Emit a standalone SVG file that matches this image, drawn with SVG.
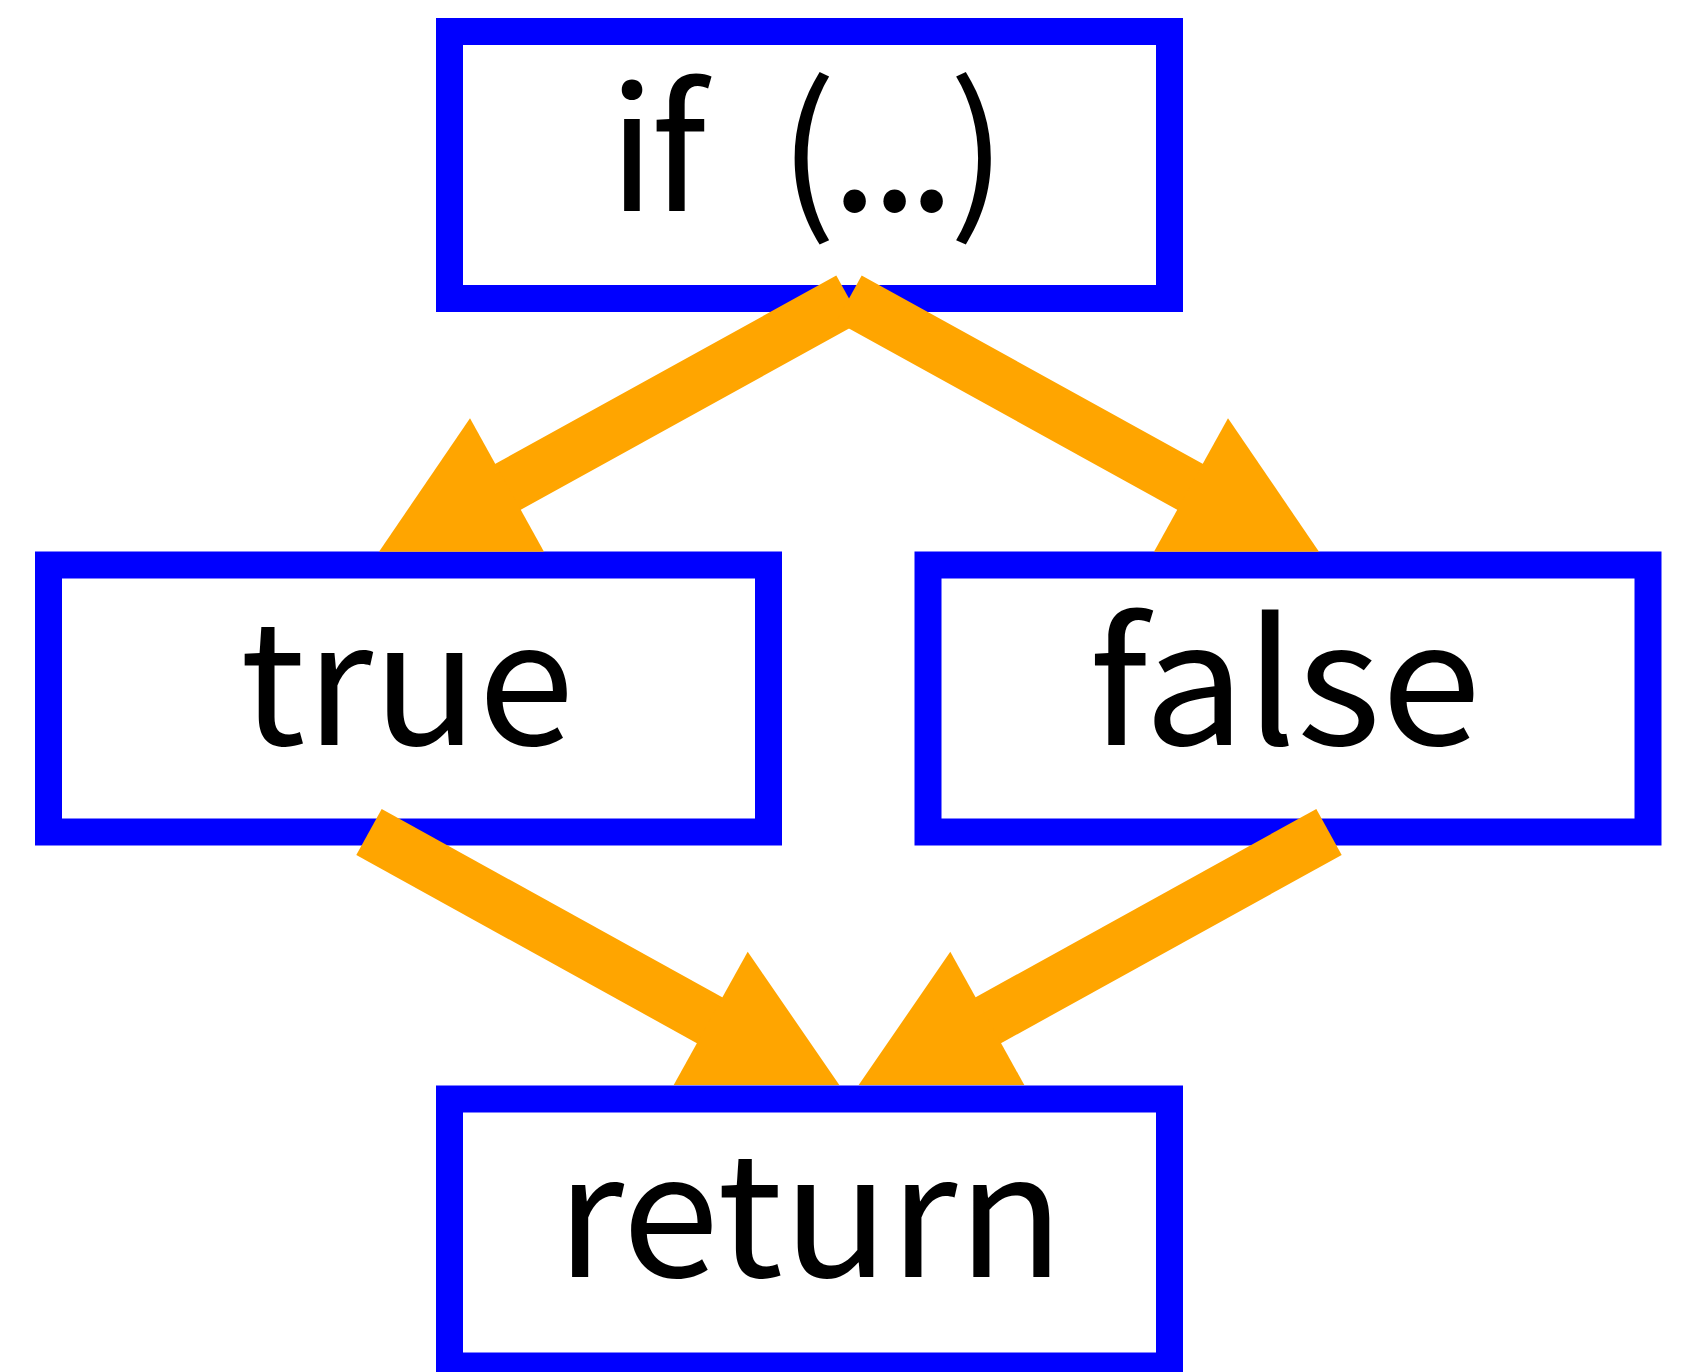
<svg xmlns="http://www.w3.org/2000/svg" width="1685" height="1372" viewBox="0 0 1685 1372">
<style>
.box{fill:#ffffff;stroke:#0000ff;stroke-width:27}
.lbl{font-family:"Noto Sans CJK JP","Noto Sans",sans-serif;font-size:170px;fill:#000000;text-anchor:middle}
.lbs{font-family:"Noto Sans CJK JP","Noto Sans",sans-serif;font-size:170px;fill:#000000}
.edge{stroke:#ffa500;stroke-width:52.5;stroke-linecap:butt;fill:none}
.head{fill:#ffa500;stroke:none}
</style>
<rect width="1685" height="1372" fill="#ffffff"/>
<g id="node-if">
<rect class="box" x="449.5" y="31.5" width="720" height="267"/>
<text class="lbs" x="608.5 651 695 779 831 871 908 949" y="211">if (...)</text>
</g>
<g id="node-true">
<rect class="box" x="48.5" y="565" width="720" height="267"/>
<text class="lbl" x="407" y="745" textLength="334" lengthAdjust="spacingAndGlyphs">true</text>
</g>
<g id="node-false">
<rect class="box" x="928" y="565" width="720" height="267"/>
<text class="lbl" x="1285" y="745" textLength="392" lengthAdjust="spacingAndGlyphs">false</text>
</g>
<g id="node-return">
<rect class="box" x="449.5" y="1099" width="720" height="267"/>
<text class="lbl" x="810" y="1277" textLength="508" lengthAdjust="spacingAndGlyphs">return</text>
</g>
<g id="connectors">
<line class="edge" x1="849" y1="298.5" x2="480" y2="502.3"/>
<polygon class="head" points="470,418.3 379,551.7 544,551.7"/>
<line class="edge" x1="849" y1="298.5" x2="1218" y2="502.3"/>
<polygon class="head" points="1228,418.3 1154,551.7 1319,551.7"/>
<line class="edge" x1="369" y1="832" x2="738" y2="1035.9"/>
<polygon class="head" points="747.7,951.7 673.7,1085 839.3,1085"/>
<line class="edge" x1="1329" y1="832" x2="960" y2="1035.9"/>
<polygon class="head" points="950.3,951.7 858.7,1085 1024.3,1085"/>
</g>
</svg>
